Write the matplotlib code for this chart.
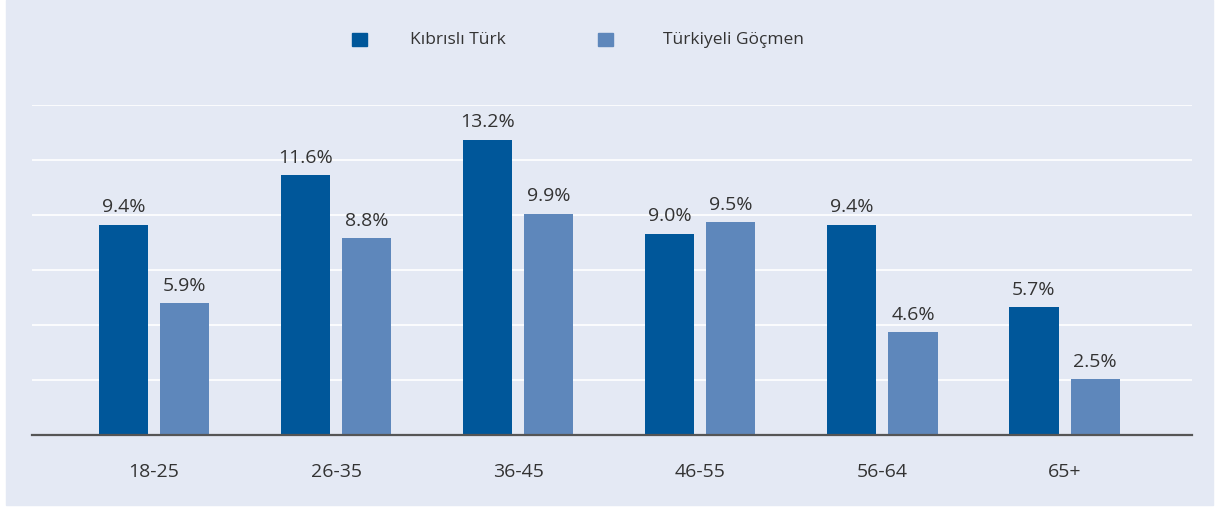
import matplotlib.pyplot as plt
from matplotlib.patches import Rectangle
import numpy as np

plt.rcParams['font.family'] = ['Open Sans', 'DejaVu Sans']

categories = ['18-25', '26-35', '36-45', '46-55', '56-64', '65+']
kibrisli = [9.4, 11.6, 13.2, 9.0, 9.4, 5.7]
gocmen = [5.9, 8.8, 9.9, 9.5, 4.6, 2.5]
series_names = ['Kıbrıslı Türk', 'Türkiyeli Göçmen']

dark = '#00579A'
light = '#5E87BB'
bg = '#E4E9F4'
txt = '#333333'

W, H = 1215, 507
fig = plt.figure(figsize=(W / 100, H / 100), dpi=100)
fig.patch.set_facecolor('white')
fig.patches.append(Rectangle((6 / W, 2 / H), (1213 - 6) / W, (H - 2) / H,
                             transform=fig.transFigure, color=bg, zorder=-5))

ax = fig.add_axes([32 / W, 72 / H, (1192 - 32) / W, (435 - 105) / H])
ax.set_facecolor('none')

x = np.arange(len(categories))
w = 0.27
off = 0.168
b1 = ax.bar(x - off, kibrisli, w, color=dark, zorder=3)
b2 = ax.bar(x + off, gocmen, w, color=light, zorder=3)

for bars, vals in ((b1, kibrisli), (b2, gocmen)):
    for b, v in zip(bars, vals):
        ax.annotate(f'{v:.1f}%', (b.get_x() + b.get_width() / 2, v),
                    xytext=(0, 6), textcoords='offset points',
                    ha='center', va='bottom', fontsize=14, color=txt)

ymax = 14.75
ax.set_xlim(-0.67, 5.70)
ax.set_ylim(0, ymax)
ax.set_yticks(np.linspace(0, ymax, 7)[1:])
ax.yaxis.grid(True, color='white', linewidth=1.2, zorder=1)
ax.set_axisbelow(True)
ax.tick_params(axis='y', left=False, labelleft=False)
ax.set_xticks(x)
ax.set_xticklabels(categories, fontsize=14, color=txt)
ax.tick_params(axis='x', length=0, pad=20)
for s in ('top', 'right', 'left'):
    ax.spines[s].set_visible(False)
ax.spines['bottom'].set_color('#555555')
ax.spines['bottom'].set_linewidth(1.6)
ax.spines['bottom'].set_zorder(4)

# legend
for sx, tx, col, name in ((352, 410, dark, series_names[0]),
                          (598, 663, light, series_names[1])):
    fig.patches.append(Rectangle((sx / W, (H - 46) / H), 15 / W, 13 / H,
                                 transform=fig.transFigure, color=col, zorder=2))
    fig.text(tx / W, (H - 40) / H, name, fontsize=12.5, color=txt,
             ha='left', va='center')

fig.savefig('out.png', dpi=100)
